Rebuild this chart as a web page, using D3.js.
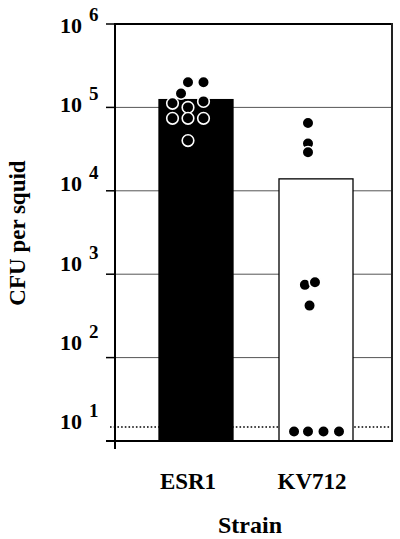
<!DOCTYPE html>
<html>
<head>
<meta charset="utf-8">
<script src="https://cdn.jsdelivr.net/npm/d3@7"></script>
<style>
  html, body { margin: 0; padding: 0; background: #fff; }
  svg { display: block; }
  text { font-family: "Liberation Serif", "Times New Roman", Times, serif; font-weight: bold; fill: #000; }
</style>
</head>
<body>
<svg id="chart" width="400" height="539"></svg>
<script>
// ---- data ----
const categories = ["ESR1", "KV712"];
const barValues = [1.24e5, 1.39e4];
const barFills = ["#000", "#fff"];
const esr1Values = [2.0e5, 2.0e5, 1.47e5, 1.12e5, 1.0e5, 1.18e5, 7.4e4, 7.4e4, 7.4e4, 4.0e4];
const esr1Cols   = [0, 1, -0.45, -1, 0, 1, -1, 0, 1, 0];
const kv712Values = [6.5e4, 3.7e4, 2.9e4, 745, 800, 420, 13, 13, 13, 13];
const kv712Cols   = [0, 0, 0, -0.2, 0.45, 0.1, -0.9, 0, 1, 2];
const tickExponents = [1, 2, 3, 4, 5, 6];
const tickBase = "10";
const detectionLimit = 14.7;
const yTitle = "CFU per squid";
const xTitle = "Strain";

(function () {
// ---- layout ----
const pL = 115, pR = 392, pT = 24, pB = 441;
const svg = d3.select("#chart");

const y = d3.scaleLog().domain([10, 1e6]).range([pB, pT]);
const yLab = d3.scaleLinear().domain([1, 6]).range([429, 33]);
const x = d3.scalePoint().domain(categories).range([pL + 73, pL + 193]);
const colStep = 15.5;
const barW = 74, barShift = 8;

// gridlines (inner decades)
svg.append("g").selectAll("line")
  .data(tickExponents.filter(e => e > 1 && e < 6))
  .join("line")
  .attr("x1", pL).attr("x2", pR)
  .attr("y1", e => y(Math.pow(10, e))).attr("y2", e => y(Math.pow(10, e)))
  .attr("stroke", "#555").attr("stroke-width", 1);

// detection limit dotted line
svg.append("line")
  .attr("x1", pL - 5).attr("x2", pR)
  .attr("y1", y(detectionLimit)).attr("y2", y(detectionLimit))
  .attr("stroke", "#000").attr("stroke-width", 1.6)
  .attr("stroke-dasharray", "1.6,2.1");

// bars
svg.append("g").selectAll("rect")
  .data(categories)
  .join("rect")
  .attr("x", (c) => x(c) + barShift - barW / 2)
  .attr("width", barW)
  .attr("y", (c, i) => y(barValues[i]))
  .attr("height", (c, i) => pB - y(barValues[i]))
  .attr("fill", (c, i) => barFills[i])
  .attr("stroke", "#000").attr("stroke-width", 1.3);

// ticks (outward)
svg.append("g").selectAll("line")
  .data(tickExponents)
  .join("line")
  .attr("x1", pL - 9).attr("x2", pL)
  .attr("y1", e => y(Math.pow(10, e))).attr("y2", e => y(Math.pow(10, e)))
  .attr("stroke", "#000").attr("stroke-width", 1.5);

// frame: top, right, bottom, left
svg.append("line").attr("x1", pL).attr("x2", pR).attr("y1", pT).attr("y2", pT)
  .attr("stroke", "#000").attr("stroke-width", 2);
svg.append("line").attr("x1", pR).attr("x2", pR).attr("y1", pT - 1).attr("y2", pB)
  .attr("stroke", "#222").attr("stroke-width", 2);
svg.append("line").attr("x1", pL - 9).attr("x2", pR + 1).attr("y1", pB).attr("y2", pB)
  .attr("stroke", "#000").attr("stroke-width", 2);
svg.append("line").attr("x1", pL).attr("x2", pL).attr("y1", pT - 1).attr("y2", pB + 8)
  .attr("stroke", "#000").attr("stroke-width", 2);

// dots
const dotData = [];
esr1Values.forEach((v, i) => dotData.push({ c: "ESR1", v, col: esr1Cols[i] }));
kv712Values.forEach((v, i) => dotData.push({ c: "KV712", v, col: kv712Cols[i] }));
svg.append("g").selectAll("circle")
  .data(dotData)
  .join("circle")
  .attr("cx", d => x(d.c) + d.col * colStep)
  .attr("cy", d => y(d.v))
  .attr("r", 5.8)
  .attr("fill", "#000")
  .attr("stroke", "#fff").attr("stroke-width", 1.6);

// y tick labels
const yl = svg.append("g");
tickExponents.forEach(e => {
  yl.append("text").attr("x", 82).attr("y", yLab(e))
    .attr("text-anchor", "end").attr("font-size", 22).text(tickBase);
  yl.append("text").attr("x", 89).attr("y", yLab(e) - 12)
    .attr("text-anchor", "start").attr("font-size", 19).text(String(e));
});

// category labels
svg.append("g").selectAll("text")
  .data(categories)
  .join("text")
  .attr("x", (c, i) => x(c) + (i === 0 ? 0 : 4))
  .attr("y", 489)
  .attr("text-anchor", "middle")
  .attr("font-size", 23)
  .text(c => c);

// axis titles
svg.append("text")
  .attr("x", 250).attr("y", 533)
  .attr("text-anchor", "middle").attr("font-size", 24)
  .text(xTitle);
svg.append("text")
  .attr("transform", "translate(25,233) rotate(-90)")
  .attr("text-anchor", "middle").attr("font-size", 23)
  .text(yTitle);
})();
</script>
</body>
</html>
